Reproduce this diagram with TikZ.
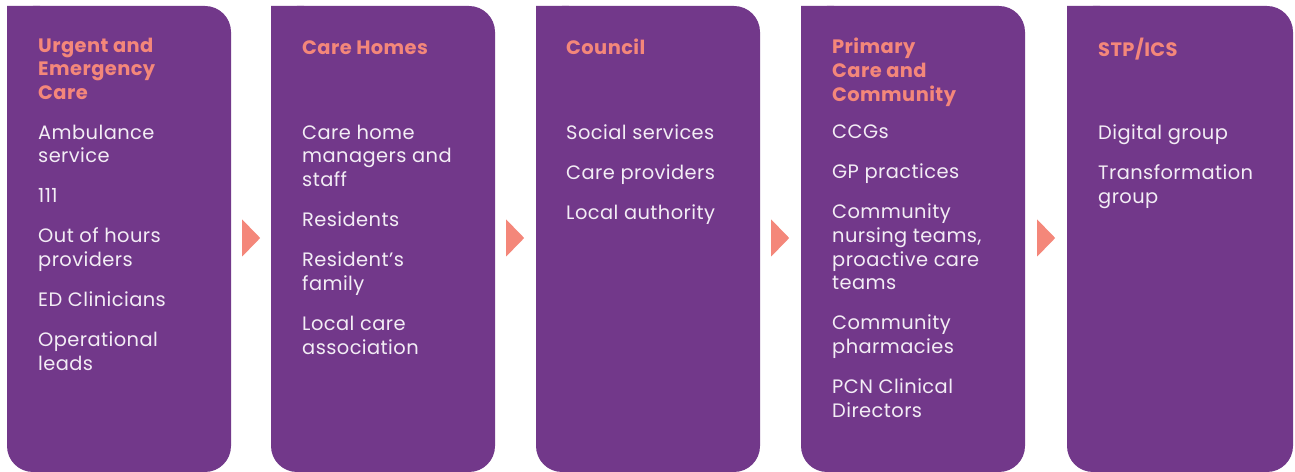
\documentclass[tikz,border=0pt]{standalone}
\usepackage{fontspec}
\setmainfont[LetterSpace=2.2]{Poppins}
\usetikzlibrary{shapes.geometric}
\definecolor{boxpurple}{HTML}{72388A}
\definecolor{headsalmon}{HTML}{F4877A}
\definecolor{itemwhite}{HTML}{F3EDF5}
\begin{document}
\begin{tikzpicture}[x=1bp,y=-1bp,
    panel/.style={fill=boxpurple,rounded corners=26bp},
    head/.style={anchor=north west,inner sep=0pt,align=left,text=headsalmon,
        font=\fontsize{19.5}{24}\selectfont\bfseries,execute at begin node=\strut},
    items/.style={anchor=north west,inner sep=0pt,align=left,text=itemwhite,
        font=\fontsize{19.5}{24}\selectfont,execute at begin node=\strut},
    pointer/.style={isosceles triangle,isosceles triangle stretches,fill=headsalmon,
        inner sep=0pt,minimum width=37bp,minimum height=18bp,anchor=west}]
    \useasboundingbox (0,0) rectangle (1295,472);
    \fill[panel] (7,6) -- (231,6) -- (231,472) -- (7,472) -- cycle;
    \fill[panel] (271,6) -- (495,6) -- (495,472) -- (271,472) -- cycle;
    \fill[panel] (536,6) -- (760,6) -- (760,472) -- (536,472) -- cycle;
    \fill[panel] (801,6) -- (1025,6) -- (1025,472) -- (801,472) -- cycle;
    \fill[panel] (1067,6) -- (1293,6) -- (1293,472) -- (1067,472) -- cycle;
    \fill[boxpurple] (7,6) rectangle (40,40) (271,6) rectangle (304,40) (536,6) rectangle (569,40)
        (801,6) rectangle (834,40) (1067,6) rectangle (1100,40);
    \node[pointer] (urgent to homes) at (242,238) {};
    \node[pointer] (homes to council) at (506,238) {};
    \node[pointer] (council to primary) at (771,238) {};
    \node[pointer] (primary to stp) at (1037,238) {};
    \node[head] (urgent) at (38,37.5) {Urgent and\\Emergency\\Care};
    \node[head] (homes) at (302,37.5) {Care Homes};
    \node[head] (council) at (566,37.5) {Council};
    \node[head] (primary) at (832,37.5) {Primary\\Care and\\Community};
    \node[head] (stp) at (1098,37.5) {STP/ICS};
    \node[items] (urgent list) at (38,124.5) {Ambulance\\service\\[16bp]111\\[16bp]Out of hours\\providers\\[16bp]ED Clinicians\\[16bp]Operational\\leads};
    \node[items] (homes list) at (302,124.5) {Care home\\managers and\\staff\\[16bp]Residents\\[16bp]Resident’s\\family\\[16bp]Local care\\association};
    \node[items] (council list) at (566,124.5) {Social services\\[16bp]Care providers\\[16bp]Local authority};
    \node[items] (primary list) at (832,124.5) {CCGs\\[16bp]GP practices\\[16bp]Community\\nursing teams,\\proactive care\\teams\\[16bp]Community\\pharmacies\\[16bp]PCN Clinical\\Directors};
    \node[items] (stp list) at (1098,124.5) {Digital group\\[16bp]Transformation\\group};
\end{tikzpicture}
\end{document}
